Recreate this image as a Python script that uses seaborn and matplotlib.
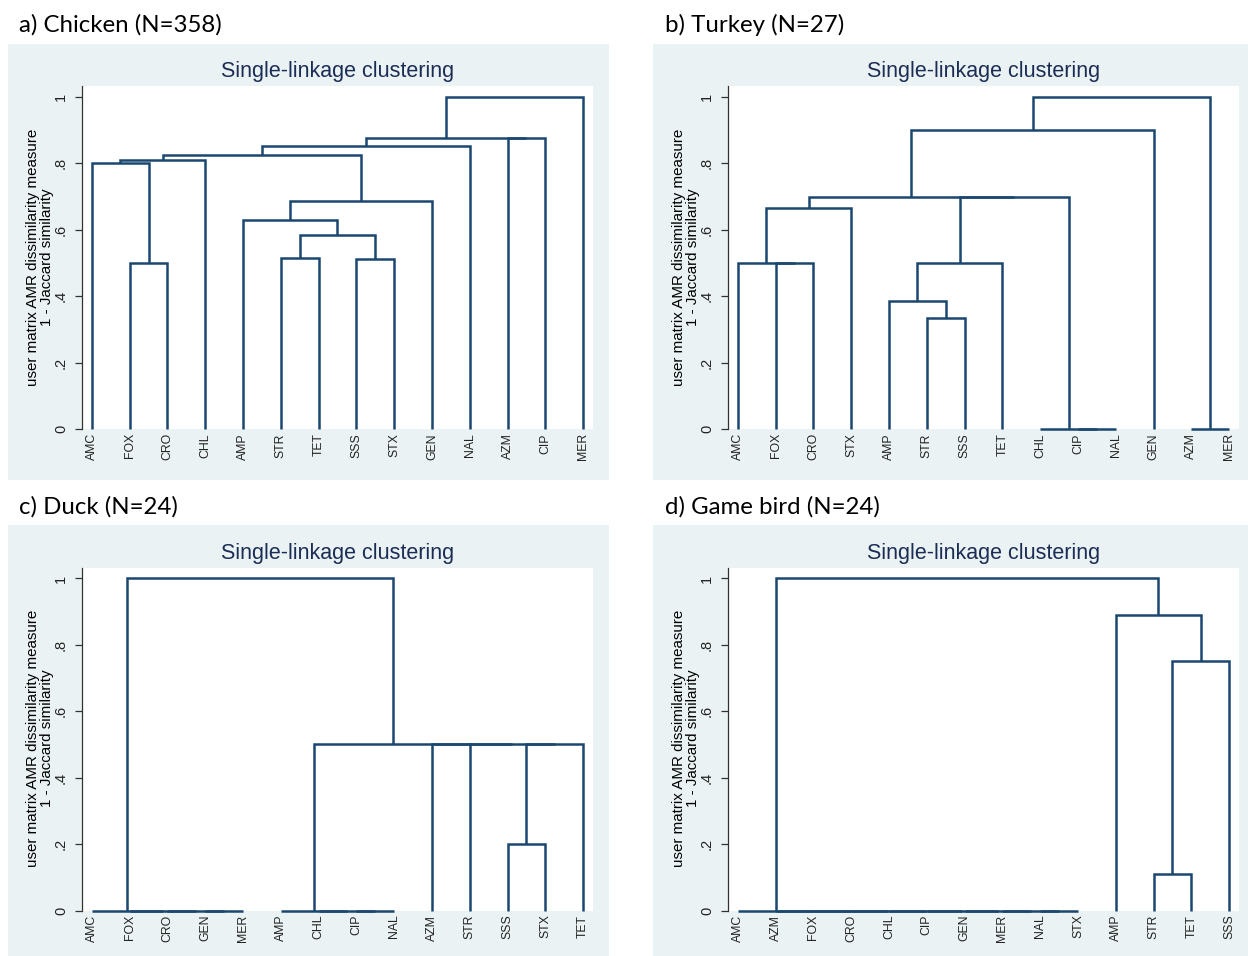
import matplotlib
matplotlib.use("Agg")
import matplotlib.pyplot as plt
from matplotlib.patches import Rectangle
import seaborn as sns
import pandas as pd

# ---------------- data ----------------
chicken_leaves = ["AMC", "FOX", "CRO", "CHL", "AMP", "STR", "TET", "SSS", "STX", "GEN", "NAL", "AZM", "CIP", "MER"]
chicken_merges = [("FOX", "CRO", 0.50), ("AMC", 0, 0.80), (1, "CHL", 0.81),
                  ("STR", "TET", 0.516), ("SSS", "STX", 0.511), (3, 4, 0.583),
                  ("AMP", 5, 0.628), (6, "GEN", 0.688), (2, 7, 0.826),
                  (8, "NAL", 0.852), ("AZM", "CIP", 0.876), (9, 10, 0.876),
                  (11, "MER", 1.0)]

turkey_leaves = ["AMC", "FOX", "CRO", "STX", "AMP", "STR", "SSS", "TET", "CHL", "CIP", "NAL", "GEN", "AZM", "MER"]
turkey_merges = [("FOX", "CRO", 0.5), ("AMC", 0, 0.5), (1, "STX", 0.667),
                 ("STR", "SSS", 0.333), ("AMP", 3, 0.385), (4, "TET", 0.5),
                 ("CIP", "NAL", 0.0), ("CHL", 6, 0.0), (5, 7, 0.70),
                 (2, 8, 0.70), (9, "GEN", 0.90), ("AZM", "MER", 0.0),
                 (10, 11, 1.0)]

duck_leaves = ["AMC", "FOX", "CRO", "GEN", "MER", "AMP", "CHL", "CIP", "NAL", "AZM", "STR", "SSS", "STX", "TET"]
duck_merges = [("GEN", "MER", 0.0), ("CRO", 0, 0.0), ("FOX", 1, 0.0), ("AMC", 2, 0.0),
               ("CIP", "NAL", 0.0), ("CHL", 4, 0.0), ("AMP", 5, 0.0),
               ("SSS", "STX", 0.2), (7, "TET", 0.5), ("STR", 8, 0.5),
               ("AZM", 9, 0.5), (6, 10, 0.5), (3, 11, 1.0)]

gamebird_leaves = ["AMC", "AZM", "FOX", "CRO", "CHL", "CIP", "GEN", "MER", "NAL", "STX", "AMP", "STR", "TET", "SSS"]
gamebird_merges = [("NAL", "STX", 0.0), ("MER", 0, 0.0), ("GEN", 1, 0.0), ("CIP", 2, 0.0),
                   ("CHL", 3, 0.0), ("CRO", 4, 0.0), ("FOX", 5, 0.0), ("AZM", 6, 0.0),
                   ("AMC", 7, 0.0), ("STR", "TET", 0.111), (9, "SSS", 0.75),
                   ("AMP", 10, 0.889), (8, 11, 1.0)]

panel_labels = ["a) Chicken (N=358)", "b) Turkey (N=27)", "c) Duck (N=24)", "d) Game bird (N=24)"]
plot_title = "Single-linkage clustering"
y_label = "user matrix AMR dissimilarity measure\n1 - Jaccard similarity"
y_ticks = [0, 0.2, 0.4, 0.6, 0.8, 1.0]
y_ticklabels = ["0", ".2", ".4", ".6", ".8", "1"]

panels = [(chicken_leaves, chicken_merges), (turkey_leaves, turkey_merges),
          (duck_leaves, duck_merges), (gamebird_leaves, gamebird_merges)]

# ---------------- style ----------------
sns.set_style("white")
plt.rcParams["font.family"] = ["Liberation Sans", "DejaVu Sans"]

W, H = 1248, 956
NAVY = "#1a476f"
BG = "#eaf2f3"
TITLE_C = "#1c2d55"

fig = plt.figure(figsize=(W / 100, H / 100), dpi=100)
fig.patch.set_facecolor("white")


def fx(px):
    return px / W


def fy(py):
    return 1 - py / H


def segments(leaves, merges):
    pos = {name: (i + 1.0, 0.0) for i, name in enumerate(leaves)}
    nodes = []
    rows = []
    for k, (a, b, h) in enumerate(merges):
        xa, ha = pos[a] if isinstance(a, str) else nodes[a]
        xb, hb = pos[b] if isinstance(b, str) else nodes[b]
        pts = []
        for p in [(xa, ha), (xa, h), (xb, h), (xb, hb)]:
            if not pts or pts[-1] != p:
                pts.append(p)
        for order, (xx, yy) in enumerate(pts):
            rows.append({"u": k, "o": order, "x": xx, "y": yy})
        nodes.append(((xa + xb) / 2.0, h))
    return pd.DataFrame(rows)


for idx, (leaves, merges) in enumerate(panels):
    col, row = idx % 2, idx // 2
    dx = 0 if col == 0 else 646
    dy = 0 if row == 0 else 481.5
    bg_left = 8 if col == 0 else 653
    bg_w = 601
    # panel background
    fig.patches.append(Rectangle((fx(bg_left), fy(44 + dy + 436)), fx(bg_w), 436 / H,
                                 transform=fig.transFigure, facecolor=BG, edgecolor="none", zorder=-5))
    # panel label
    fig.text(fx(19 + dx), fy(32 + dy), panel_labels[idx], fontsize=17.3,
             family=["Lato", "DejaVu Sans"], ha="left", va="baseline", color="black")
    # plot area
    left, top, right, bottom = 82 + dx, 86 + dy, 593 + dx, 429 + dy
    ax = fig.add_axes([fx(left), fy(bottom), fx(right - left), (bottom - top) / H])
    ax.set_zorder(2)
    ax.set_facecolor("white")
    df = segments(leaves, merges)
    sns.lineplot(data=df, x="x", y="y", units="u", estimator=None, sort=False,
                 color=NAVY, linewidth=1.8, ax=ax, legend=False)
    for ln in ax.lines:
        ln.set_clip_on(False)
        ln.set_solid_joinstyle("miter")
        ln.set_solid_capstyle("butt")
    ax.set_xlim(0.74, 14.26)
    ax.set_ylim(0, 1.033)
    ax.set_xticks(range(1, len(leaves) + 1))
    ax.set_xticklabels(leaves, rotation=90, fontsize=8.8, color="#222222")
    ax.set_yticks(y_ticks)
    ax.set_yticklabels(y_ticklabels, rotation=90, fontsize=10.5, color="#222222", va="center")
    ax.tick_params(axis="x", length=0, pad=3)
    ax.tick_params(axis="y", length=5, width=0.9, color="#333333", pad=5, left=True)
    ax.set_xlabel("")
    ax.set_ylabel("")
    for s in ["top", "right", "bottom"]:
        ax.spines[s].set_visible(False)
    ax.spines["left"].set_color("#333333")
    ax.spines["left"].set_linewidth(0.9)
    # title
    fig.text(fx((left + right) / 2), fy(77 + dy), plot_title, fontsize=15.5,
             ha="center", va="baseline", color=TITLE_C)
    # y label
    fig.text(fx(40 + dx), fy(257 + dy), y_label, fontsize=10.9, rotation=90,
             ha="center", va="center", multialignment="center", linespacing=0.95, color="black")

fig.savefig("out.png", dpi=100, facecolor="white")
